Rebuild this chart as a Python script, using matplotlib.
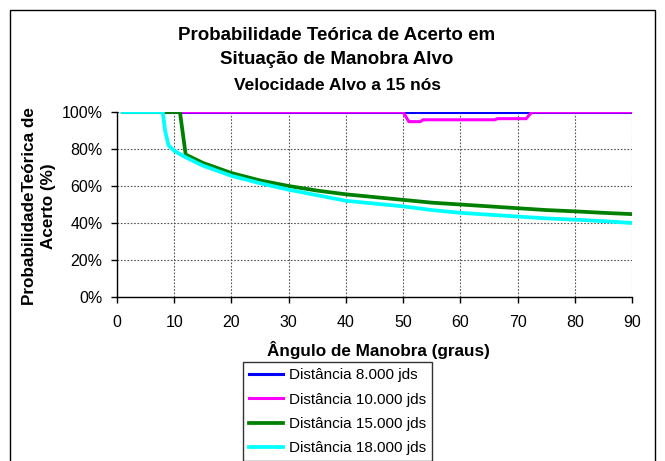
import matplotlib
matplotlib.use("Agg")
import matplotlib.pyplot as plt
from matplotlib.patches import Rectangle
from matplotlib.ticker import FuncFormatter

plt.rcParams['font.family'] = ['Liberation Sans', 'DejaVu Sans']

# Data (angle in degrees, probability in %)
x_blue = [1, 50, 72, 90]
y_blue = [100, 100, 100, 100]

x_mag = [1, 50, 51, 53, 53.5, 66, 66.5, 71.5, 72.5, 90]
y_mag = [100, 100, 94.8, 94.8, 95.8, 95.8, 96.4, 96.4, 100, 100]

x_green = [1, 11, 12, 15, 20, 25, 30, 35, 40, 45, 50, 55, 60, 65, 70, 75, 80, 85, 90]
y_green = [100, 100, 77, 72.5, 67, 63, 60, 57.5, 55.5, 54, 52.5, 51, 50, 49, 48, 47, 46.3, 45.5, 44.8]

x_cyan = [1, 8, 8.4, 9, 10, 12, 15, 20, 25, 30, 35, 40, 45, 50, 55, 60, 65, 70, 75, 80, 85, 90]
y_cyan = [100, 100, 90, 82, 79, 75.5, 71, 65.5, 61.5, 58, 55, 52, 50.5, 49, 47, 45.5, 44.5, 43.5, 42.5, 41.8, 41, 40]

labels = ["Distância 8.000 jds", "Distância 10.000 jds", "Distância 15.000 jds", "Distância 18.000 jds"]
colors = ["#0000FF", "#FF00FF", "#008000", "#00FFFF"]
widths = [2.2, 2.2, 2.7, 2.7]

W, H = 665, 461
fig = plt.figure(figsize=(W / 100, H / 100), dpi=100)

# outer frame
fig.patches.append(Rectangle((10 / W, -0.1), 645 / W, 1 - 10 / H + 0.1,
                             transform=fig.transFigure, fill=False,
                             edgecolor='black', linewidth=1.0))

left, right, top, bottom = 117, 632, 112, 297
ax = fig.add_axes([left / W, 1 - bottom / H, (right - left) / W, (bottom - top) / H])

for xs, ys, c, lab, lw in zip([x_blue, x_mag, x_green, x_cyan],
                              [y_blue, y_mag, y_green, y_cyan], colors, labels, widths):
    ax.plot(xs, ys, color=c, linewidth=lw, label=lab, solid_joinstyle='miter')

ax.set_xlim(0, 90)
ax.set_ylim(0, 100)
ax.set_xticks(range(0, 91, 10))
ax.set_yticks(range(0, 101, 20))
ax.yaxis.set_major_formatter(FuncFormatter(lambda v, p: f"{int(v)}%"))
ax.tick_params(labelsize=11.5, length=4, width=1, direction='out', colors='black')
ax.tick_params(axis='x', pad=9)
ax.tick_params(axis='y', pad=6.5)
ax.grid(True, color='#555555', linestyle=(0, (1.5, 1.5)), linewidth=0.8)
ax.set_axisbelow(True)
for s in ['top', 'right']:
    ax.spines[s].set_visible(False)
for s in ['left', 'bottom']:
    ax.spines[s].set_linewidth(1.0)
    ax.spines[s].set_zorder(5)

fig.text(378 / W, 1 - 350 / H, "Ângulo de Manobra (graus)", ha='center', va='center',
         fontsize=12.3, fontweight='bold')
fig.text(39 / W, 1 - 206 / H, "ProbabilidadeTeórica de\nAcerto (%)", ha='center', va='center',
         rotation=90, fontsize=12.3, fontweight='bold', linespacing=1.3, multialignment='center')

fig.text(337 / W, 1 - 35 / H, "Probabilidade Teórica de Acerto em",
         ha='center', va='center', fontsize=13.5, fontweight='bold')
fig.text(337 / W, 1 - 60 / H, "Situação de Manobra Alvo",
         ha='center', va='center', fontsize=13.5, fontweight='bold')
fig.text(337 / W, 1 - 86 / H, "Velocidade Alvo a 15 nós",
         ha='center', va='center', fontsize=12.5, fontweight='bold')

leg = fig.legend(loc='upper left', bbox_to_anchor=(243 / W, 1 - 362 / H),
                 bbox_transform=fig.transFigure, fontsize=11, frameon=True,
                 fancybox=False, edgecolor='black', handlelength=2.2,
                 handletextpad=0.4, labelspacing=0.68, borderpad=0.4,
                 borderaxespad=0)
leg.get_frame().set_linewidth(1.0)

fig.savefig("out.png", dpi=100)
